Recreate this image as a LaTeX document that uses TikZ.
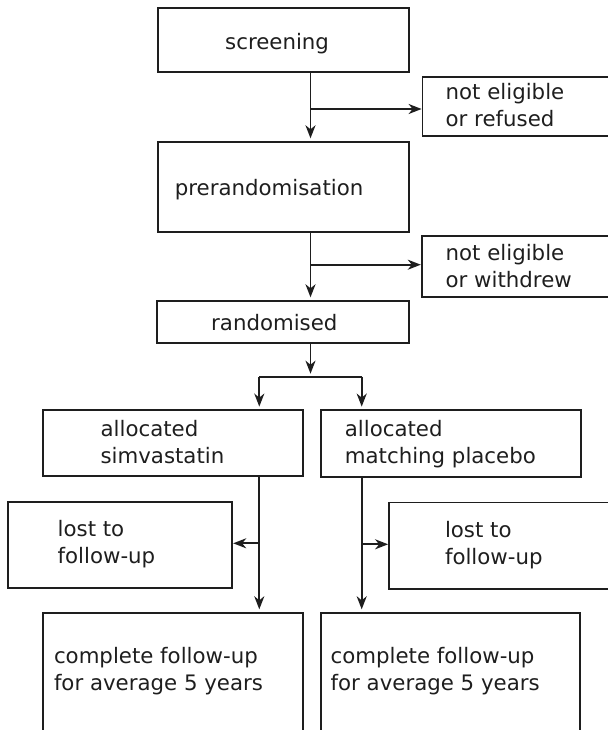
\documentclass[tikz,border=0pt]{standalone}
\usepackage{fontspec}
\setmainfont{DejaVu Sans}
\usetikzlibrary{arrows.meta}
\definecolor{ink}{HTML}{1E1E1E}
\begin{document}
\begin{tikzpicture}[x=1pt,y=-1pt,
  box/.style={draw=ink, line width=1.8pt, rectangle, inner sep=0pt},
  lbl/.style={anchor=base west, inner sep=0pt, align=left, text=ink,
              font=\fontsize{21.3}{27}\selectfont},
  link/.style={draw=ink, line width=1.8pt},
  arr/.style={link, -{Stealth[length=13pt, width=10pt, inset=4pt]}},
  varr/.style={arr, shorten >=2.5pt}]
\useasboundingbox (0,0) rectangle (607,730);

% boxes
\node[box, minimum width=250.5pt, minimum height=63.4pt] (screen)   at (283.5,40) {};
\node[box, minimum width=189.5pt, minimum height=58.7pt] (refused)  at (517.25,106.65) {};
\node[box, minimum width=251pt,   minimum height=90pt]   (prerand)  at (283.8,186.7) {};
\node[box, minimum width=190.3pt, minimum height=61.6pt] (withdrew) at (516.85,266.5) {};
\node[box, minimum width=252.3pt, minimum height=42pt]   (rand)     at (283.15,321.7) {};
\node[box, minimum width=260pt,   minimum height=65.7pt] (allocS)   at (172.7,442.85) {};
\node[box, minimum width=259.7pt, minimum height=66.7pt] (allocP)   at (450.85,443.35) {};
\node[box, minimum width=224pt,   minimum height=86.6pt] (lostS)    at (120.3,545) {};
\node[box, minimum width=223pt,   minimum height=86.5pt] (lostP)    at (500.5,545.75) {};
\node[box, minimum width=260pt,   minimum height=119.3pt] (compS)   at (173.3,672.35) {};
\node[box, minimum width=259pt,   minimum height=119.3pt] (compP)   at (450.5,672.35) {};

% texts (two-line labels are placed by the baseline of their last line)
\node[lbl] (tScreen)   at (225,49.3)    {screening};
\node[lbl] (tRefused)  at (445.5,126.7) {not eligible\\or refused};
\node[lbl] (tPrerand)  at (174.7,195.7) {prerandomisation};
\node[lbl] (tWithdrew) at (445.5,287)   {not eligible\\or withdrew};
\node[lbl] (tRand)     at (211,330)     {randomised};
\node[lbl] (tAllocS)   at (100.4,463.3) {allocated\\simvastatin};
\node[lbl] (tAllocP)   at (344.7,463.3) {allocated\\matching placebo};
\node[lbl] (tLostS)    at (57.5,563.3)  {lost to\\follow-up};
\node[lbl] (tLostP)    at (444.8,564)   {lost to\\follow-up};
\node[lbl] (tCompS)    at (53.8,690)    {complete follow-up\\for average 5 years};
\node[lbl] (tCompP)    at (330.5,690)   {complete follow-up\\for average 5 years};

% junction points
\coordinate (j1)  at (310.5,109);
\coordinate (j2)  at (310.5,264.7);
\coordinate (sp)  at (310.5,376.7);
\coordinate (spL) at (259.3,376.7);
\coordinate (spR) at (361.7,376.7);
\coordinate (jL)  at (259.3,543.3);
\coordinate (jR)  at (361.7,544.3);

% connectors
\draw[varr] (screen.south -| j1) -- (prerand.north -| j1);
\draw[arr]  (j1) -- (refused.west |- j1);
\draw[varr] (prerand.south -| j2) -- (rand.north -| j2);
\draw[arr]  (j2) -- (withdrew.west |- j2);
\draw[arr, shorten >=3pt] (rand.south -| sp) -- (sp);
\draw[link] (spL) -- (spR);
\draw[varr] (spL) -- (allocS.north -| spL);
\draw[varr] (spR) -- (allocP.north -| spR);
\draw[varr] (allocS.south -| jL) -- (compS.north -| jL);
\draw[arr]  (jL) -- (lostS.east |- jL);
\draw[varr] (allocP.south -| jR) -- (compP.north -| jR);
\draw[arr]  (jR) -- (lostP.west |- jR);
\end{tikzpicture}
\end{document}
